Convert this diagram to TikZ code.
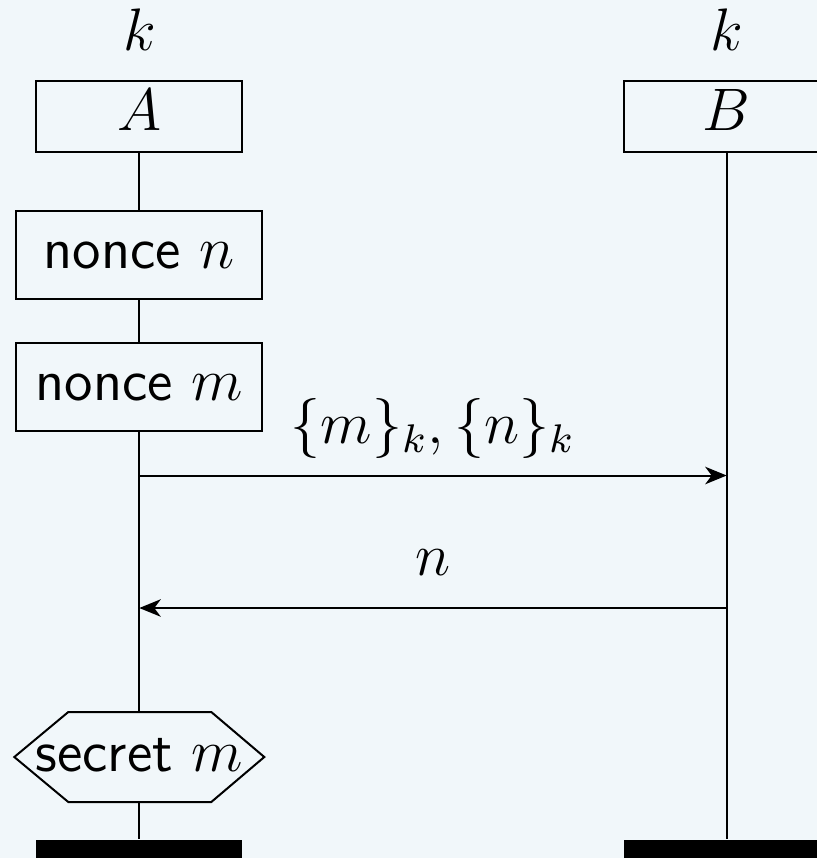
\documentclass[tikz,border=0pt]{standalone}
\usetikzlibrary{arrows.meta,calc}
\definecolor{bgcol}{RGB}{241,247,250}
\begin{document}
\begin{tikzpicture}[x=0.2pt,y=-0.2pt,
  font=\fontsize{11.6}{14}\selectfont\sffamily,
  every node/.style={inner sep=0pt},
  actor/.style={draw,line width=0.4pt,minimum width=41.26pt,minimum height=14.26pt,text height=7.9pt,text depth=2.5pt},
  actionbox/.style={draw,line width=0.4pt,fill=bgcol,minimum width=49.2pt,minimum height=17.6pt},
  claimbox/.style={minimum width=49.6pt,minimum height=17.6pt,text height=5.88pt,text depth=0pt},
  endbar/.style={fill=black,minimum width=41.26pt,minimum height=4pt},
  life/.style={line width=0.4pt},
  msg/.style={line width=0.4pt,-{Stealth[length=4.3pt,width=3.5pt,inset=1.3pt]}},
  lbl/.style={anchor=base,yshift=6.5pt}]
\useasboundingbox (0,0) rectangle (817,858);
\clip (0,0) rectangle (817,858);
\fill[bgcol] (0,0) rectangle (817,858);

% knowledge labels
\node[anchor=base] (kA) at (139.3,50) {$k$};
\node[anchor=base] (kB) at (726.7,50) {$k$};

% actors
\node[actor] (A) at (139.3,116.6) {$A$};
\node[actor] (B) at (726.7,116.6) {$B$};

% actions on A
\node[actionbox] (nn) at (139.3,255) {nonce $n$};
\node[actionbox] (nm) at (139.3,387) {nonce $m$};
\node[claimbox] (sec) at (139.3,757) {secret $m$};
\draw[line width=0.4pt] (sec.west) -- ([xshift=10.8pt]sec.north west) -- ([xshift=-10.6pt]sec.north east)
  -- (sec.east) -- ([xshift=-10.6pt]sec.south east) -- ([xshift=10.8pt]sec.south west) -- cycle;

% end bars
\node[endbar] (barA) at (139.3,850) {};
\node[endbar] (barB) at (726.7,850) {};

% lifelines
\draw[life] (A) -- (nn);
\draw[life] (nn) -- (nm);
\draw[life] (nm) -- (sec);
\draw[life] (sec) -- (barA);
\draw[life] (B) -- (barB);

% messages
\coordinate (m1s) at (139.3,475.5);
\coordinate (m1e) at (726.7,475.5);
\coordinate (m2s) at (726.7,608);
\coordinate (m2e) at (139.3,608);
\draw[msg] (m1s) -- node[lbl] (l1) {$\{m\}_k,\{n\}_k$} (m1e);
\draw[msg] (m2s) -- node[lbl] (l2) {$n$} (m2e);
\end{tikzpicture}
\end{document}
